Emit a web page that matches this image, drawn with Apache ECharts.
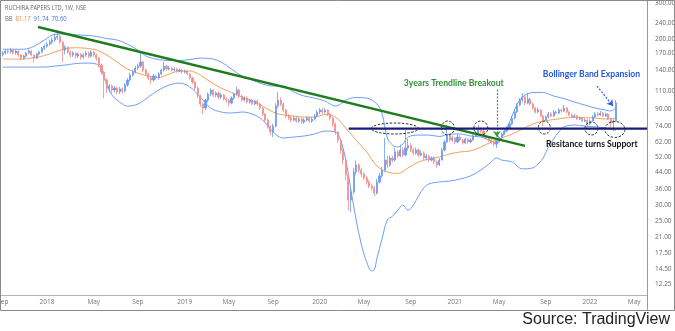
<!DOCTYPE html>
<html>
<head>
<meta charset="utf-8">
<script src="https://cdn.jsdelivr.net/npm/echarts@6/dist/echarts.min.js"></script>
<style>
  html, body { margin: 0; padding: 0; background: #fff; }
  #chart { width: 675px; height: 331px; }
</style>
</head>
<body>
<div id="chart"></div>
<script>
// ---- Weekly bars: RUCHIRA PAPERS LTD (NSE), [open, close, low, high] ----
const symbolTitle = 'RUCHIRA PAPERS LTD, 1W, NSE';
const firstWeek = '2017-09-04';
const ohlc = [
  [168.0,170.4,164,175],[170.4,174.4,167.5,178],[174.4,172.4,169,179],[172.4,176.4,170,181],
  [176.4,170.4,168,178],[170.4,174.4,167,177],[174.4,166.5,163,176],[166.5,160.8,157,169],
  [160.8,164.6,158,167],[164.6,170.4,162,173],[170.4,174.4,168,178],[174.4,166.5,164,176],
  [166.5,160.8,153,168],[160.8,168.4,159,171],[168.4,172.4,166,176],[172.4,180,170,183],
  [180,184,176,188],[184,188.5,181,193],[188.5,193,185,198],[193,197.7,189,203],
  [197.7,203.5,194,212],[203.5,206,198,221],[206,193,189,210],[193,176.4,153.8,196],
  [176.4,182,168,186],[182,172.4,169,184],[172.4,166.5,162,175],[166.5,170.4,163,174],
  [170.4,164.6,160,172],[164.6,168.4,161,171],[168.4,162.7,158,170],[162.7,166.5,159,170],
  [166.5,170.4,163,174],[170.4,164.6,161,173],[164.6,172.4,162,176],[172.4,166.5,163,175],
  [166.5,160.8,156,169],[160.8,148.6,145,163],[148.6,137.2,133,151],[137.2,125.3,102,139],
  [125.3,114.4,108,128],[114.4,117,110,120],[117,111.8,108,119],[111.8,114.4,109,117],
  [114.4,109.3,106,116],[109.3,113.1,107,116],[113.1,110.5,107,115],[110.5,118.3,109,121],
  [118.3,125.3,116,128],[125.3,132.6,123,136],[132.6,137.2,130,141],[137.2,143.6,135,147],
  [143.6,146.9,140,151],[146.9,153.8,144,171.4],[153.8,140.4,137,156],[140.4,134.1,131,143],
  [134.1,128.2,125,136],[128.2,125.3,119.7,131],[125.3,131.1,123,134],[131.1,128.2,125,133],
  [128.2,134.1,126,137],[134.1,140.4,132,143],[140.4,146.9,138,153.8],[146.9,142,139,149],
  [142,143.6,140,147],[143.6,140.4,138,146],[140.4,142,138,145],[142,138.8,136,144],
  [138.8,140.4,137,143],[140.4,137.2,135,142],[137.2,138.8,135,141],[138.8,134.1,132,140],
  [134.1,128.2,126,136],[128.2,122.5,120,130],[122.5,114.4,112,124],[114.4,104.4,102,116],
  [104.4,95.3,92,106],[95.3,91,85,97],[91,99.7,89,101],[99.7,106.8,97,109],
  [106.8,111.8,104,114],[111.8,105.6,103,113],[105.6,108,103,110],[108,103.2,101,110],
  [103.2,105.6,101,108],[105.6,100.9,99,107],[100.9,99.7,97,103],[99.7,96.4,93.1,101],
  [96.4,102,95,104],[102,106.8,100,109],[106.8,111.8,105,115.7],[111.8,104.4,102,113],
  [104.4,99.7,98,106],[99.7,102,98,104],[102,97.5,96,104],[97.5,99.7,96,101],
  [99.7,95.3,94,101],[95.3,98.6,94,100],[98.6,95.3,93,100],[95.3,91,89,97],
  [91,85,83,92],[85,79.4,77,86],[79.4,74.2,72,81],[74.2,69.3,67,75],
  [69.3,74.2,65.4,76],[74.2,93.1,73,96],[93.1,99.7,91,109.3],[99.7,95.3,93,103],
  [95.3,89,87,97],[89,83.1,81,90],[83.1,81.2,79.5,85],[81.2,79.4,77.5,83],
  [79.4,81.2,78,83],[81.2,78.5,77,83],[78.5,80.3,77,82],[80.3,77.6,76,82],
  [77.6,79.4,76,81],[79.4,81.2,78,83],[81.2,78.5,77,83],[78.5,80.3,77,82],
  [80.3,83.1,79,85],[83.1,87,82,89],[87,89,85,91],[89,87,85,91],
  [87,89,85.5,91],[89,85,83,90],[85,81.2,79,86],[81.2,75.9,73.5,82],
  [75.9,69.3,67,77],[69.3,63.2,61,70],[63.2,56.4,54,64],[56.4,50.3,48,57],
  [50.3,42.4,40,51],[42.4,31.9,28.4,43],[31.9,34.9,27.8,36],[34.9,43.9,34,46],
  [43.9,47.6,42.5,50],[47.6,44.9,43.5,48.5],[44.9,42.9,41.5,46],[42.9,41,40,44],
  [41,39.2,38,42],[39.2,37.4,36.5,40],[37.4,36.6,35.5,38.5],[36.6,34.5,33.4,37.5],
  [34.5,39.2,34,40.5],[39.2,42,38.5,43.5],[42,44.9,41,46.5],[44.9,50.3,44,64.7],
  [50.3,47.6,46,53],[47.6,51.5,46.5,53],[51.5,50.3,49,53],[50.3,55.2,49.5,58],
  [55.2,52.7,51.5,56.5],[52.7,56.4,52,60],[56.4,53.3,52,58],[53.3,57.7,52.5,70.8],
  [57.7,59.4,56,64],[59.4,56.4,55,61],[56.4,54.5,53,58],[54.5,56.4,53.5,58],
  [56.4,53.3,52,57.5],[53.3,54.5,52.5,56],[54.5,51.5,50.5,55.5],[51.5,52.7,50.5,54],
  [52.7,50.3,49.2,53.5],[50.3,51.5,49.5,52.5],[51.5,49.2,48,52.5],[49.2,47.6,46,50],
  [47.6,50.3,47,51.5],[50.3,56.4,50,58],[56.4,61.8,55.5,63.5],[61.8,66.9,61,75],
  [66.9,63.2,62,68],[63.2,64.7,62,66.5],[64.7,61.8,60.5,65.5],[61.8,65.4,61,67],
  [65.4,63.2,62,66.5],[63.2,61.1,60,64],[61.1,63.9,60.5,65],[63.9,61.8,60.5,64.5],
  [61.8,63.2,61,64.5],[63.2,66.2,62.5,67.5],[66.2,68.5,65.5,70],[68.5,70.8,67.5,75],
  [70.8,70,68,73],[70,66.2,65,71],[66.2,64.7,63.5,67],[64.7,63.2,62,65.5],
  [63.2,61.8,60.5,64],[61.8,60.4,59,62.5],[60.4,62.5,57.7,63.5],[62.5,65.4,62,66.5],
  [65.4,67.7,64.5,69],[67.7,70,67,71.5],[70,72.5,69,74],[72.5,75.9,72,77.5],
  [75.9,81.2,75,83],[81.2,87,80,89],[87,94.2,86,96],[94.2,99.7,93,102],
  [99.7,103.2,97,108],[103.2,96.4,94,105],[96.4,100.9,95,108],[100.9,95.3,93.5,102],
  [95.3,91,89.5,97],[91,87,85.5,92],[87,89,86,91.5],[89,83.1,82,90],
  [83.1,79.4,74.2,84],[79.4,82.1,78.5,83.5],[82.1,85,81,87],[85,83.1,82,87],
  [83.1,87,82.5,89],[87,86,84.5,88.5],[86,89,85,91],[89,88,86.5,90.5],
  [88,91,87,94.2],[91,87,86,92],[87,84,83,88],[84,82.1,81,85.5],
  [82.1,83.1,81.5,85],[83.1,80.3,79.5,84],[80.3,81.2,79.5,82.5],[81.2,78.5,77.5,82],
  [78.5,79.4,77.5,81],[79.4,75.9,71.6,80.5],[75.9,78.5,75,80],[78.5,82.1,78,84],
  [82.1,85,81,87],[85,84,83,87],[84,86,83,88],[86,83.1,82,87],
  [83.1,85,82.5,86.5],[85,80.3,79.5,86],[80.3,76.7,70.8,81],[76.7,78.5,70,80],
  [78.5,96.4,78,99.7]
];

// ---- Bollinger Bands (20, 2): [bar index, value] ----
const bbBasis = [
  [0,159.1],[4,159.1],[8,159.1],[12,161.7],[16,165.5],[20,172.4],[24,179.1],[28,181],
  [32,180],[36,176.4],[40,166.5],[44,153.8],[48,142],[52,135.6],[56,131.1],[60,128.9],
  [64,134.1],[68,138.8],[72,138.8],[76,132.6],[80,122.5],[84,114.4],[88,108.7],[92,103.2],
  [96,98.6],[100,93.1],[104,87],[108,84],[112,83.1],[116,82.1],[120,82.1],[124,84.5],
  [128,82.1],[132,72.5],[136,63.2],[140,55.2],[144,47],[148,43.9],[152,43.2],[156,46],
  [160,49.2],[164,50.9],[168,52.1],[172,53.9],[176,55.2],[180,55.8],[184,58.4],[188,61.8],
  [192,64.7],[196,67.7],[200,71.6],[204,75.9],[208,78.5],[212,79.8],[216,81.2],[220,82.1],
  [224,81.6],[228,81.2],[232,80.3],[236,81.17]
];
const bbUpper = [
  [0,178],[4,178],[8,178],[12,184],[16,197.7],[20,211],[24,212],[28,210],
  [32,208.5],[36,206],[40,201],[44,197.7],[48,188.5],[52,176.4],[54,168.4],[56,162.7],
  [60,158.2],[64,156.5],[68,156.5],[72,158.2],[76,160.8],[80,160],[84,153.8],[88,142],
  [92,131.1],[96,125.3],[100,119.7],[104,117],[108,117],[112,109.3],[116,104.4],[120,102],
  [124,98.6],[128,93.1],[130,95.3],[132,99.7],[136,102.6],[140,102],[144,95.3],[146,85],
  [148,64.7],[150,59.7],[152,58.4],[154,60.4],[156,65.4],[160,66.9],[164,66.9],[168,65.8],
  [172,67.7],[176,67.7],[180,66.2],[184,65.4],[188,62.5],[190,60.4],[192,64.7],[194,72.5],
  [196,83.1],[198,95.3],[200,103.2],[204,108.7],[208,108.7],[212,104.4],[216,101.4],[220,97.5],
  [224,94.2],[228,91],[232,89],[234,88],[236,91.74]
];
const bbLower = [
  [0,145.2],[4,145.2],[8,145.2],[12,145.2],[16,145.2],[20,146.9],[24,148.6],[28,151.1],
  [32,152],[36,150.3],[38,140.4],[40,118.3],[42,105.6],[44,99.7],[48,93.1],[52,95.3],
  [56,103.2],[60,111.8],[64,118.3],[68,121],[72,115.7],[76,103.2],[80,91],[84,87],
  [88,86],[92,87],[96,85],[100,79.4],[104,69.3],[108,64.7],[112,65.4],[116,66.2],
  [120,67.7],[124,70],[128,69.3],[130,63.2],[132,50.3],[134,35.7],[136,25.4],[138,19.2],
  [140,15.8],[142,14.2],[143,14.4],[144,16.4],[146,20.6],[148,25.4],[150,26.5],[152,28.4],
  [154,30.1],[156,28.4],[158,30.1],[160,33.4],[162,36.6],[164,38.3],[168,39.2],[172,39.6],
  [176,40.5],[180,42],[184,44.9],[188,49.2],[190,51.5],[192,50.3],[196,49.2],[200,45.5],
  [204,46],[206,48.1],[208,51.5],[210,58.4],[212,63.9],[214,69.3],[216,73.4],[220,75],
  [224,74.2],[228,73.4],[232,72.5],[236,70.6]
];

// ---- Drawn studies ----
const trendline = [['2017-12-08', 229.3], ['2021-07-12', 59.1]];
const supportLevel = 72;
const supportFrom = '2020-03-24';
const breakoutArrow = [['2021-04-27', 112.4], ['2021-04-27', 65.4]];
const expansionArrow = [['2022-01-22', 117], ['2022-03-06', 93.1]];
const touchPoints = [
  ['2020-07-26', 72.1], ['2020-12-16', 72.5], ['2021-03-15', 72.5],
  ['2021-09-02', 72.9], ['2022-01-07', 72.1], ['2022-03-11', 71.3]
];
const notes = [
  { text: '3years Trendline Breakout', at: ['2021-01-01', 121.1] },
  { text: 'Bollinger Band Expansion', at: ['2022-01-07', 134.2] },
  { text: 'Resitance turns Support', at: ['2022-01-08', 60.4] }
];

// ---- Axis ticks ----
const priceTicks = [300, 240, 200, 170, 140, 110, 90, 74, 62, 52, 44, 36, 30, 25, 21, 17.5, 14.5, 12.25];
const dateTicks = [
  '2017-09-04', '2018-01-01', '2018-05-07', '2018-09-03', '2019-01-07', '2019-05-06',
  '2019-09-02', '2020-01-06', '2020-05-04', '2020-09-07', '2021-01-04', '2021-05-03',
  '2021-09-06', '2022-01-03', '2022-05-02'
];
const viewStart = '2017-08-27T10:00:00Z';
const viewEnd = '2022-06-05T14:00:00Z';
const priceMin = 10.8, priceMax = 312;

// ---- Helpers ----
const DAY = 86400000;
const t = s => Date.parse(s.length === 10 ? s + 'T00:00:00Z' : s);
const weekTime = i => t(firstWeek) + i * 7 * DAY;
const MONTHS = ['Jan','Feb','Mar','Apr','May','Jun','Jul','Aug','Sep','Oct','Nov','Dec'];

const UP = '#6b9bf0', DOWN = '#f28d8a';
const BAND = '#6e9ef5', BASIS = '#f6a05c';

const chart = echarts.init(document.getElementById('chart'), null, { renderer: 'canvas' });

const candleData = ohlc.map((r, i) => [weekTime(i), r[0], r[1], r[2], r[3]]);
const toLine = arr => arr.map(p => [weekTime(p[0]), p[1]]);

chart.setOption({
  animation: false,
  backgroundColor: '#fff',
  grid: { left: 0, right: 28, top: 0, bottom: 36, containLabel: false, outerBoundsMode: 'none' },
  xAxis: {
    // time in epoch milliseconds on a linear axis
    type: 'value',
    min: t(viewStart),
    max: t(viewEnd),
    axisLine: { show: true, lineStyle: { color: '#b5b5b5', width: 1 } },
    axisTick: { show: false },
    splitLine: { show: false },
    axisLabel: {
      customValues: dateTicks.map(t),
      color: '#777',
      fontSize: 6.5,
      fontFamily: 'Open Sans',
      margin: 4,
      showMinLabel: true,
      showMaxLabel: true,
      formatter: v => {
        const d = new Date(v);
        return d.getUTCMonth() === 0 ? String(d.getUTCFullYear()) : MONTHS[d.getUTCMonth()];
      }
    }
  },
  yAxis: {
    type: 'log',
    position: 'right',
    min: priceMin,
    max: priceMax,
    axisLine: { show: true, lineStyle: { color: '#9a9a9a', width: 1 } },
    axisTick: { show: false },
    splitLine: { show: false },
    axisLabel: {
      customValues: priceTicks,
      color: '#666',
      fontSize: 6.5,
      fontFamily: 'Open Sans',
      margin: 8,
      formatter: v => Number(v).toFixed(2)
    }
  },
  series: [
    {
      name: 'Upper', type: 'line', data: toLine(bbUpper), smooth: 0.35, showSymbol: false,
      lineStyle: { color: BAND, width: 1 }, z: 2, silent: true
    },
    {
      name: 'Lower', type: 'line', data: toLine(bbLower), smooth: 0.35, showSymbol: false,
      lineStyle: { color: BAND, width: 1 }, z: 2, silent: true
    },
    {
      name: 'Basis', type: 'line', data: toLine(bbBasis), smooth: 0.35, showSymbol: false,
      lineStyle: { color: BASIS, width: 1 }, z: 2, silent: true
    },
    {
      name: 'Price', type: 'candlestick', data: candleData, barWidth: 1.6, z: 3,
      itemStyle: { color: UP, color0: DOWN, borderColor: UP, borderColor0: DOWN, borderWidth: 0.8 }
    },
    {
      name: 'Trendline', type: 'line', data: trendline.map(p => [t(p[0]), p[1]]),
      showSymbol: false, lineStyle: { color: '#1d7d1d', width: 2.4 }, z: 5, silent: true
    },
    {
      name: 'Support', type: 'line',
      data: [[t(supportFrom), supportLevel], [t(viewEnd), supportLevel]],
      showSymbol: false, lineStyle: { color: '#1b1b7e', width: 2.4 }, z: 5, silent: true,
      markLine: {
        silent: true, symbol: ['none', 'arrow'], symbolSize: 6, label: { show: false },
        data: [
          [{ coord: [t(breakoutArrow[0][0]), breakoutArrow[0][1]] },
           { coord: [t(breakoutArrow[1][0]), breakoutArrow[1][1]],
             lineStyle: { color: '#3a9a3a', type: [2, 1.5], width: 1.2 }, itemStyle: { color: '#3a9a3a' } }],
          [{ coord: [t(expansionArrow[0][0]), expansionArrow[0][1]] },
           { coord: [t(expansionArrow[1][0]), expansionArrow[1][1]],
             lineStyle: { color: '#2a5fe0', type: [2, 1.5], width: 1.2 }, itemStyle: { color: '#2a5fe0' } }]
        ]
      }
    }
  ]
});

// ---- Overlay: header, dashed touch rings, notes, frame, source ----
const px = (d, v) => chart.convertToPixel({ gridIndex: 0 }, [t(d), v]);
const ringSize = [[23.5, 5.5], [6.5, 7], [7, 7], [6, 6.5], [6.5, 6.5], [10, 8]];
const noteStyle = [
  { fill: '#2f922f', size: 10, sx: 0.86 },
  { fill: '#2058e0', size: 10, sx: 0.86 },
  { fill: '#111111', size: 10, sx: 0.86 }
];

const graphics = [];
touchPoints.forEach((p, k) => {
  const c = px(p[0], p[1]);
  graphics.push({
    type: 'ellipse', silent: true, z: 20,
    shape: { cx: c[0], cy: c[1], rx: ringSize[k][0], ry: ringSize[k][1] },
    style: { fill: 'none', stroke: '#333', lineWidth: 1, lineDash: [2.5, 1.5] }
  });
});
notes.forEach((n, k) => {
  const c = px(n.at[0], n.at[1]);
  const s = noteStyle[k];
  graphics.push({
    type: 'text', silent: true, z: 21, x: c[0], y: c[1], scaleX: s.sx,
    style: {
      text: n.text, fill: s.fill, font: 'bold ' + s.size + 'px Lato',
      align: 'center', verticalAlign: 'middle'
    }
  });
});
const last = a => a[a.length - 1][1].toFixed(2);
graphics.push(
  { type: 'text', x: 5, y: 8, scaleX: 0.8, silent: true, z: 21,
    style: { text: symbolTitle, fill: '#666', font: '7px "Open Sans"', verticalAlign: 'middle' } },
  { type: 'text', x: 5, y: 19, scaleX: 0.85, silent: true, z: 21,
    style: {
      text: '{g|BB} {o|' + last(bbBasis) + '} {b|' + last(bbUpper) + '} {b|' + last(bbLower) + '}',
      verticalAlign: 'middle',
      rich: {
        g: { fill: '#666', font: '7px "Open Sans"' },
        o: { fill: '#f08a3c', font: '7px "Open Sans"' },
        b: { fill: '#3f73e6', font: '7px "Open Sans"' }
      }
    } },
  { type: 'rect', silent: true, z: 22,
    shape: { x: 0.5, y: 0.5, width: 674, height: 310 },
    style: { fill: 'none', stroke: '#8a8a8a', lineWidth: 1 } },
  { type: 'line', silent: true, z: 22,
    shape: { x1: 647.5, y1: 295, x2: 647.5, y2: 310 },
    style: { stroke: '#9a9a9a', lineWidth: 1 } },
  { type: 'text', silent: true, z: 22, x: 670, y: 320,
    style: { text: 'Source: TradingView', fill: '#222', font: '16px "Liberation Sans"',
             align: 'right', verticalAlign: 'middle' } }
);
chart.setOption({ graphic: graphics });
</script>
</body>
</html>
